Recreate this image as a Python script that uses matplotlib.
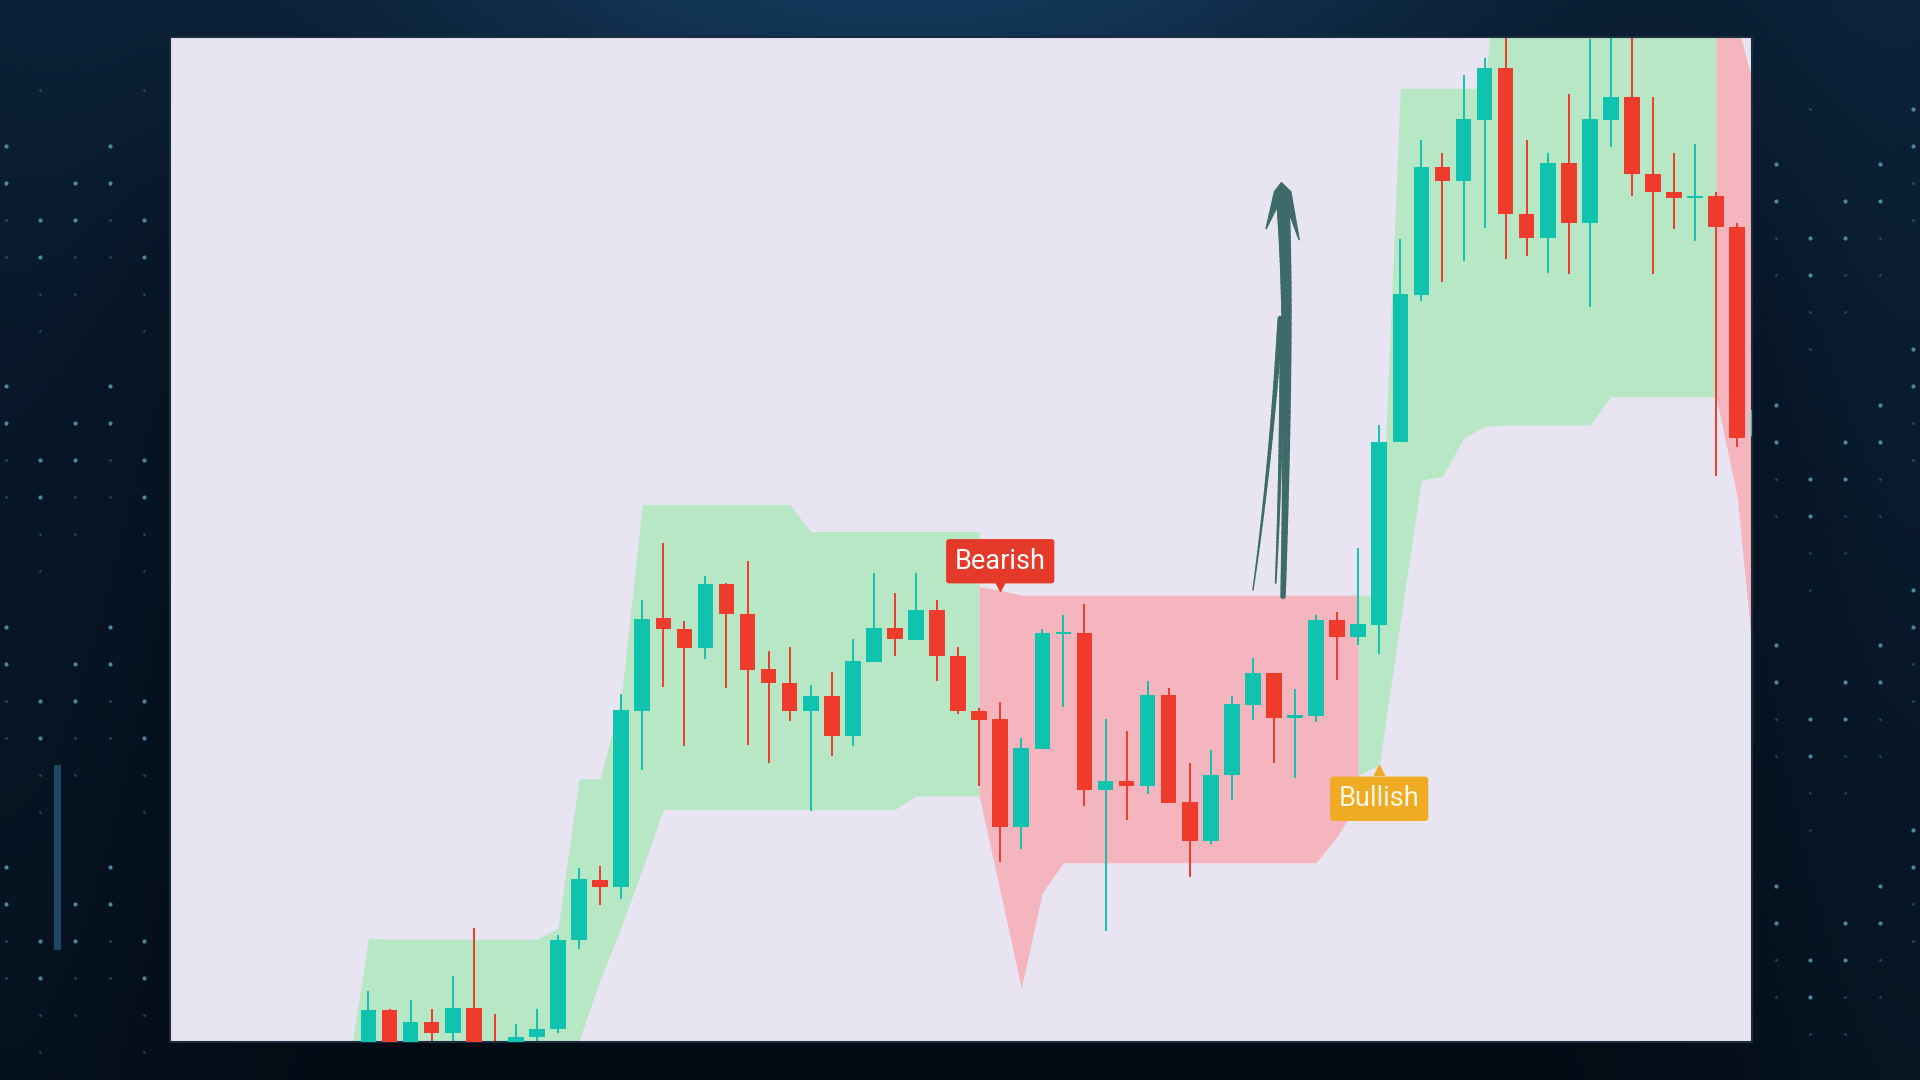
import numpy as np
import matplotlib.pyplot as plt
from matplotlib.collections import LineCollection
from matplotlib.patches import Polygon, Rectangle
from matplotlib.transforms import offset_copy

# candles, chart units (bigger = higher on screen)
opens = [38, 75, 40, 65, 56, 77, 42, 42, 53, 60,
         132.5, 181.5, 176, 319.5, 395.5, 386.5, 370.5, 423.5, 399, 353.5,
         342.5, 319.5, 332, 299, 359, 387.5, 377.5, 402, 364, 319.5,
         312.5, 225, 288, 382, 383, 254.5, 262.5, 258, 332.5, 245,
         213.5, 267.5, 324.5, 350.5, 314, 315, 393.5, 380, 390, 539.5,
         659, 763.5, 752.5, 802.5, 845, 725, 706, 767, 718, 802.5,
         821, 758, 743, 738.5, 740, 715, 544]
highs = [91, 76, 83, 76, 103, 142, 72, 64, 76, 136,
         191, 193, 333.5, 410, 456.5, 393, 429.5, 424, 442, 368.5,
         372, 341, 351, 378, 432.5, 416, 432.5, 410, 372, 321.5,
         327, 297, 386, 398, 406.5, 313, 303, 343.5, 338.5, 277,
         287.5, 332, 362.5, 350.5, 337, 398, 400.5, 452.5, 553, 705,
         786, 775, 838.5, 853, 872.5, 786, 775.5, 823, 868, 872.5,
         871.5, 821, 775, 782.5, 743, 718, 570]
lows = [34, 32, 36, 48, 47, 38, 26, 38, 47, 56,
        125, 161, 166, 271, 339, 291, 361.5, 338.5, 292, 276.5,
        311, 238, 283, 291, 359, 364, 377.5, 344, 317, 258.5,
        196, 206.5, 288, 323, 242, 139.5, 230.5, 251.5, 244, 184,
        210.5, 247, 312, 277, 264.5, 310.5, 345, 373.5, 366, 539,
        654, 670, 687, 714, 688.5, 691, 677, 676, 649.5, 780,
        740, 676, 713, 703.5, 511, 535, 540]
closes = [75, 36, 65, 56, 77, 42, 30, 53, 60, 132.5,
          182, 176, 320, 394.5, 386, 370.5, 423.5, 398.5, 353, 342.5,
          319.5, 332, 299, 360, 387.5, 378, 402, 364, 319, 312,
          225, 289.5, 383, 384, 254.5, 262.5, 258.5, 332.5, 244, 213.5,
          267.5, 325, 350.5, 314, 316, 393.5, 380, 390.5, 539.5, 660,
          763.5, 752.5, 803, 845, 725, 706, 767, 718, 803, 821,
          758, 743, 738.5, 740, 715, 542, 565]

# trend bands (bar index, lower, upper)
bull1_x = list(range(-1, 30))
bull1_up = [23, 134] + [133] * 8 + [142, 264, 264, 330] + [488] * 8 + [466] * 9
bull1_lo = [0] * 11 + [50, 100, 143, 190] + [239] * 12 + [250] * 4
bear1_x = list(range(29, 48))
bear1_up = [421, 418] + [414] * 17
bear1_lo = [250, 172, 93, 171] + [195.5] * 13 + [217, 245]
bull2_x = list(range(47, 65))
bull2_up = [414, 414] + [828] * 5 + [1000] * 11
bull2_lo = [267, 275, 393, 508, 511, 542, 552] + [553] * 5 + [576] * 6
bear2_x = [64, 65, 66]
bear2_up = [880, 880, 816]
bear2_lo = [576, 494, 320]

teal = '#10C3AF'
red = '#EF3B2C'
green_fill = '#B8E7C6'
red_fill = '#F5B5BE'
arrow_c = '#3E6B69'

fig = plt.figure(figsize=(19.2, 10.8), dpi=100)
fig.patch.set_facecolor('#07142A')

# dark blue backdrop with a glow at the top
bg = fig.add_axes([0, 0, 1, 1], zorder=-5)
bg.axis('off')
yy, xx = np.mgrid[0:1080:6, 0:1920:6]
glow = np.exp(-(((xx - 900) / 650.0) ** 2 + ((yy + 60) / 260.0) ** 2))
side = np.exp(-(((xx - 1920) / 220.0) ** 2)) * 0.35 + np.exp(-((xx / 200.0) ** 2)) * 0.25
base = np.array([6, 17, 32]) / 255.0
hi = np.array([20, 58, 92]) / 255.0
k = np.clip(glow + side, 0, 1)[..., None]
img = base + k * (hi - base)
img *= (1 - 0.35 * (yy / 1080.0))[..., None]
bg.imshow(img, extent=[0, 1920, 1080, 0], aspect='auto', interpolation='bilinear')
bg.set_xlim(0, 1920)
bg.set_ylim(1080, 0)

# dotted columns on both sides
for cx in [6, 40, 75, 110, 144, 1776, 1810, 1845, 1880, 1913]:
    rows = np.arange(90, 1060, 18.5)
    for j, ry in enumerate(rows):
        h = (j * 7 + int(cx) * 3) % 13
        if h < 4:
            bg.scatter(cx, ry, s=9 if h < 2 else 4, color='#6FB6D6',
                       alpha=0.7 if h < 2 else 0.3, lw=0)
bg.add_patch(Rectangle((54, 765), 7, 185, color='#2F6C95', alpha=0.6, lw=0))

ax = fig.add_axes([0.0885, 0.0352, 0.824, 0.9306])
ax.set_facecolor('#E9E4F1')
ax.set_xlim(-9.43, 65.7)
ax.set_ylim(49, 870)
ax.set_xticks([])
ax.set_yticks([])
for s in ax.spines.values():
    s.set_color('#1B2C3E')
    s.set_linewidth(1.5)

ax.fill_between(bull1_x, bull1_lo, bull1_up, color=green_fill, lw=0, zorder=1)
ax.fill_between(bear1_x, bear1_lo, bear1_up, color=red_fill, lw=0, zorder=1)
ax.fill_between(bull2_x, bull2_lo, bull2_up, color=green_fill, lw=0, zorder=1)
ax.fill_between(bear2_x, bear2_lo, bear2_up, color=red_fill, lw=0, zorder=1)

o = np.array(opens)
c = np.array(closes)
x = np.arange(len(o))
cols = [teal if cc >= oo else red for oo, cc in zip(o, c)]
ax.vlines(x, lows, highs, colors=cols, lw=1.4, zorder=2)
ax.bar(x, np.maximum(np.abs(c - o), 1.8), bottom=np.minimum(o, c), width=0.74,
       color=cols, lw=0, zorder=3)

# labels
ax.annotate('Bearish', xy=(30, bear1_up[1]), xytext=(0, 15.5), textcoords='offset points',
            ha='center', va='baseline', fontsize=19.5, family='Roboto', color='white',
            bbox=dict(boxstyle='round,pad=0.32,rounding_size=0.12', fc='#E5392A', ec='none'),
            zorder=6)
ax.plot(30, bear1_up[1], marker='v', ms=7, color='#E5392A', zorder=6,
        transform=offset_copy(ax.transData, fig=fig, x=0, y=4, units='dots'))
ax.annotate('Bullish', xy=(48, bull2_lo[1]), xytext=(0, -29.5), textcoords='offset points',
            ha='center', va='baseline', fontsize=19.5, family='Roboto', color='#FFF7E6',
            bbox=dict(boxstyle='round,pad=0.32,rounding_size=0.12', fc='#EFAB22', ec='none'),
            zorder=6)
ax.plot(48, bull2_lo[1], marker='^', ms=7, color='#EFAB22', zorder=6,
        transform=offset_copy(ax.transData, fig=fig, x=0, y=-5, units='dots'))


# hand drawn arrow
def stroke(p0, p1, p2, w0, w1, n=60):
    t = np.linspace(0, 1, n)[:, None]
    pts = (1 - t) ** 2 * np.array(p0) + 2 * (1 - t) * t * np.array(p1) + t ** 2 * np.array(p2)
    segs = np.stack([pts[:-1], pts[1:]], axis=1)
    ax.add_collection(LineCollection(segs, linewidths=np.linspace(w0, w1, n - 1),
                                     colors=arrow_c, capstyle='round', zorder=4))


stroke((43.42, 735), (43.78, 640), (43.43, 413), 9.5, 4)
stroke((43.3, 640), (42.85, 520), (42.0, 418), 4, 1.0)
stroke((43.4, 640), (43.35, 520), (43.08, 424), 4, 1.3)
ax.add_patch(Polygon([(43.02, 743.5), (43.35, 751), (43.8, 743.5), (44.2, 704),
                      (43.67, 728.5), (43.15, 731.2), (42.62, 713)],
                     closed=True, fc=arrow_c, ec=arrow_c, lw=1, zorder=4))

fig.savefig('out.png', dpi=100, facecolor=fig.get_facecolor())
